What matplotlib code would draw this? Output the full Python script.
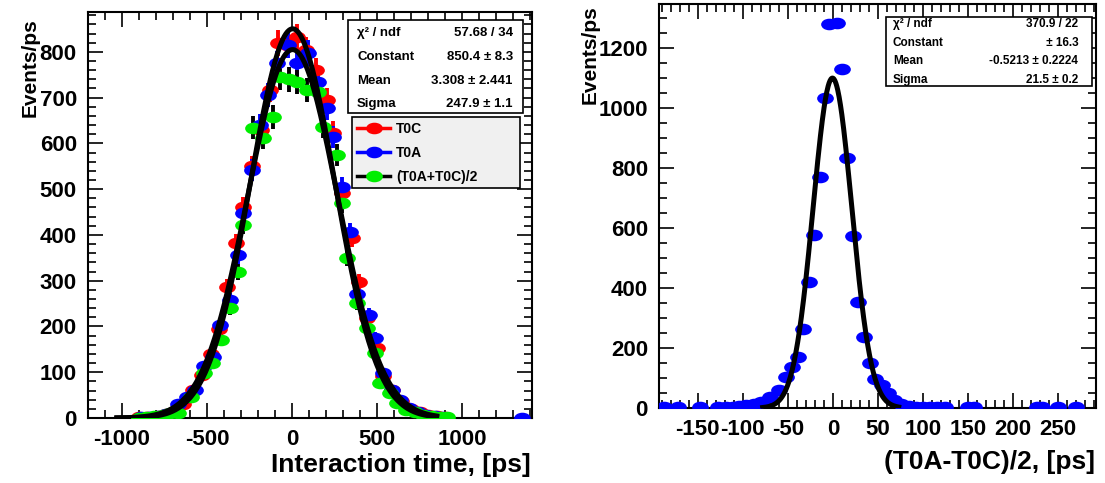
import matplotlib
matplotlib.use('Agg')
import matplotlib.pyplot as plt
import numpy as np
from matplotlib.path import Path
from matplotlib.patches import Rectangle
from matplotlib.lines import Line2D
from matplotlib.ticker import MultipleLocator

plt.rcParams['font.family'] = ['Liberation Sans', 'DejaVu Sans']
plt.rcParams['font.weight'] = 'bold'
plt.rcParams['axes.unicode_minus'] = False

# Left panel: interaction time distributions
t0c_x = [-900, -850, -790, -740, -690, -640, -580, -530, -476, -430, -385, -330, -288, -235,
         -182, -129, -82, -30, 29, 80, 140, 206, 241, 294, 353, 394, 441, 500, 535, 590,
         640, 700, 750, 800, 850, 900]
t0c_y = [2, 3, 5, 9, 16, 30, 62, 95, 140, 195, 286, 383, 461, 550, 630, 717, 820, 815, 833,
         805, 760, 695, 623, 492, 393, 297, 218, 153, 92, 62, 38, 20, 12, 7, 4, 2]

t0a_x = [-890, -840, -790, -740, -671, -620, -571, -518, -465, -424, -365, -318, -288, -235,
         -190, -141, -90, -24, 29, 94, 150, 206, 241, 294, 341, 382, 453, 488, 535, 588,
         635, 690, 740, 790, 840, 890, 1350]
t0a_y = [2, 3, 4, 8, 31, 45, 61, 114, 133, 203, 258, 356, 448, 542, 640, 706, 775, 815, 776,
         798, 735, 677, 614, 505, 407, 271, 225, 175, 98, 61, 39, 22, 12, 7, 4, 2, 1]

avg_x = [-900, -860, -810, -760, -720, -671, -594, -518, -471, -418, -365, -318, -288, -229,
         -171, -112, -70, -20, 29, 88, 153, 182, 265, 294, 323, 382, 441, 488, 518, 576,
         618, 670, 720, 770, 820, 870, 910]
avg_y = [1, 2, 4, 7, 10, 11, 46, 98, 120, 170, 240, 319, 422, 634, 612, 658, 745, 740, 734,
         717, 713, 636, 575, 470, 350, 252, 197, 142, 77, 55, 32, 18, 12, 7, 5, 3, 2]

# fitted gaussians (constant, mean, sigma)
fits_left = [(850.4, 3.308, 247.9), (805.0, 3.0, 262.0)]
fit_left_range = (-1030, 850)

# Right panel: (T0A-T0C)/2
diff_x = [-188, -172, -147, -127, -119, -111, -104, -96, -88, -80, -70, -60, -52, -45, -39,
          -33, -27, -21, -14, -9, -4, 4, 10, 16, 22, 28, 35, 41, 47, 54, 61, 68, 76, 84,
          92, 100, 108, 116, 124, 150, 157, 226, 232, 250, 270]
diff_y = [2, 2, 2, 2, 3, 4, 6, 10, 14, 20, 37, 60, 103, 137, 170, 263, 420, 577, 770, 1033,
          1280, 1283, 1130, 833, 573, 353, 237, 150, 97, 77, 50, 27, 13, 7, 4, 3, 2, 2, 2,
          2, 2, 2, 2, 2, 2]
fit_right = (1100.0, -0.5213, 21.5)
fit_right_range = (-78, 73)

stats_left = [('χ² / ndf', '57.68 / 34'), ('Constant', '850.4 ± 8.3'),
              ('Mean', '3.308 ± 2.441'), ('Sigma', '247.9 ± 1.1')]
stats_right = [('χ² / ndf', '370.9 / 22'), ('Constant', ' ± 16.3'),
               ('Mean', '-0.5213 ± 0.2224'), ('Sigma', '21.5 ± 0.2')]

# ellipse marker like the stretched ROOT circles
circ = Path.unit_circle()
ell = Path(circ.vertices * np.array([1.5, 1.0]), circ.codes)


def gauss(x, c, m, s):
    return c * np.exp(-0.5 * ((x - m) / s) ** 2)


def root_axes(ax, xmaj, xmin, ymaj, ymin, labsize):
    ax.xaxis.set_major_locator(MultipleLocator(xmaj))
    ax.xaxis.set_minor_locator(MultipleLocator(xmin))
    ax.yaxis.set_major_locator(MultipleLocator(ymaj))
    ax.yaxis.set_minor_locator(MultipleLocator(ymin))
    ax.tick_params(which='both', direction='in', top=True, right=True, width=1.2,
                   labelsize=labsize)
    ax.tick_params(which='major', length=11, pad=8)
    ax.tick_params(which='minor', length=6)
    for sp in ax.spines.values():
        sp.set_linewidth(1.5)
    for lab in ax.get_xticklabels() + ax.get_yticklabels():
        lab.set_fontweight('bold')


def stat_box(ax, rows, x0, x1, y0, y1, ys, xl, xr, fs):
    ax.add_patch(Rectangle((x0, y0), x1 - x0, y1 - y0, transform=ax.transAxes,
                           facecolor='white', edgecolor='black', lw=1.2, zorder=10))
    for (name, val), y in zip(rows, ys):
        ax.text(xl, y, name, transform=ax.transAxes, ha='left', va='center',
                fontsize=fs, fontweight='bold', zorder=11)
        ax.text(xr, y, val, transform=ax.transAxes, ha='right', va='center',
                fontsize=fs, fontweight='bold', zorder=11)


fig = plt.figure(figsize=(11.05, 4.83), dpi=100)
ax1 = fig.add_axes([0.0796, 0.1346, 0.4018, 0.8404])
ax2 = fig.add_axes([0.5964, 0.1553, 0.3955, 0.8364])

# ---- left panel
series = [(t0c_x, t0c_y, 'red', 'red'), (t0a_x, t0a_y, 'blue', 'blue'),
          (avg_x, avg_y, 'black', '#00ee00')]
for xs, ys, ecol, mcol in series:
    ax1.errorbar(xs, ys, yerr=np.sqrt(ys), fmt='none', ecolor=ecol, elinewidth=2.8,
                 capsize=0, zorder=3)
    ax1.plot(xs, ys, ls='none', marker=ell, ms=11, color=mcol, mec=mcol, zorder=4)

xf = np.linspace(*fit_left_range, 400)
for c, m, s in fits_left:
    ax1.plot(xf, gauss(xf, c, m, s), color='black', lw=3.6, zorder=6)

ax1.set_xlim(-1200, 1410)
ax1.set_ylim(0, 887)
root_axes(ax1, 500, 100, 100, 20, 16)

stat_box(ax1, stats_left, 0.586, 0.980, 0.751, 0.980,
         [0.948, 0.889, 0.830, 0.773], 0.606, 0.957, 9.5)

handles = [Line2D([], [], color='red', lw=2.5, marker=ell, ms=11, mfc='red', mec='red'),
           Line2D([], [], color='blue', lw=2.5, marker=ell, ms=11, mfc='blue', mec='blue'),
           Line2D([], [], color='black', lw=2.5, marker=ell, ms=11, mfc='#00ee00',
                  mec='#00ee00')]
leg = ax1.legend(handles, ['T0C', 'T0A', '(T0A+T0C)/2'], loc='upper left',
                 bbox_to_anchor=(0.595, 0.574, 0.378, 0.167), mode='expand',
                 prop={'weight': 'bold', 'size': 10}, handlelength=2.4,
                 borderaxespad=0, labelspacing=0.7, fancybox=False,
                 facecolor='#f0f0f0', edgecolor='black', framealpha=1,
                 borderpad=0.35, handletextpad=0.4)
leg.get_frame().set_linewidth(1.2)
leg.set_zorder(12)

# ---- right panel
ax2.plot(diff_x, diff_y, ls='none', marker=ell, ms=11, color='blue', mec='blue', zorder=4)
xf2 = np.linspace(*fit_right_range, 300)
ax2.plot(xf2, gauss(xf2, *fit_right), color='black', lw=3.6, zorder=6)
ax2.set_xlim(-193, 292)
ax2.set_ylim(0, 1347)
root_axes(ax2, 50, 10, 200, 50, 16)

stat_box(ax2, stats_right, 0.519, 0.991, 0.797, 0.968,
         [0.950, 0.903, 0.859, 0.812], 0.535, 0.959, 8.5)

# axis titles placed ROOT style
fig.text(0.480, 0.037, 'Interaction time, [ps]', ha='right', va='center',
         fontsize=19, fontweight='bold')
fig.text(0.991, 0.043, '(T0A-T0C)/2, [ps]', ha='right', va='center',
         fontsize=19, fontweight='bold')
fig.text(0.027, 0.963, 'Events/ps', rotation=90, ha='center', va='top',
         fontsize=15, fontweight='bold')
fig.text(0.534, 0.99, 'Events/ps', rotation=90, ha='center', va='top',
         fontsize=15, fontweight='bold')

fig.savefig('out.png', dpi=100)
